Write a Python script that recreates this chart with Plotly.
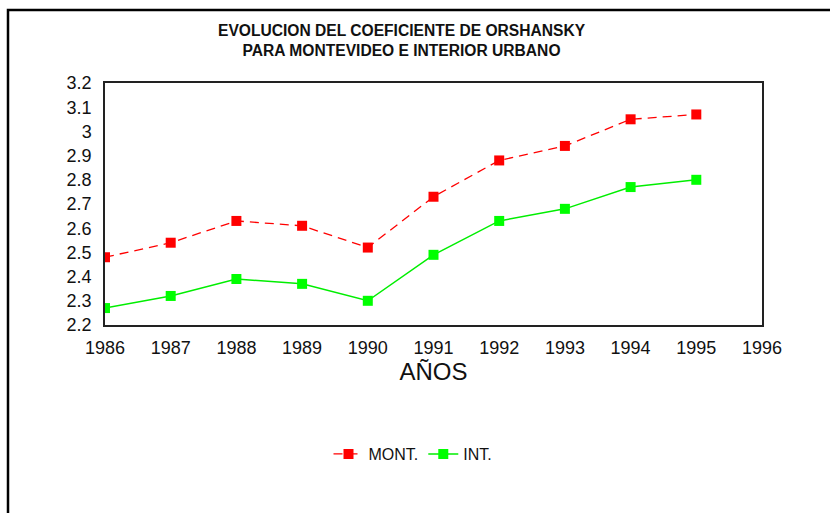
import plotly.graph_objects as go

# ---------------- data ----------------
years = [1986, 1987, 1988, 1989, 1990, 1991, 1992, 1993, 1994, 1995]
mont = [2.48, 2.54, 2.63, 2.61, 2.52, 2.73, 2.88, 2.94, 3.05, 3.07]
interior = [2.27, 2.32, 2.39, 2.37, 2.30, 2.49, 2.63, 2.68, 2.77, 2.80]

x_ticks = list(range(1986, 1997))
y_ticks = [2.2, 2.3, 2.4, 2.5, 2.6, 2.7, 2.8, 2.9, 3.0, 3.1, 3.2]
y_labels = ["2.2", "2.3", "2.4", "2.5", "2.6", "2.7", "2.8", "2.9", "3", "3.1", "3.2"]

title_lines = ["EVOLUCION DEL COEFICIENTE DE ORSHANSKY", "PARA MONTEVIDEO E INTERIOR URBANO"]

# ---------------- figure ----------------
W, H = 830, 513
ml, mr, mt, mb = 105, 68, 83, 188
pw, ph = W - ml - mr, H - mt - mb


def px2paper_x(px):
    return (px - ml) / pw


def px2paper_y(py):
    return (H - mb - py) / ph


fig = go.Figure()

fig.add_trace(
    go.Scatter(
        x=years,
        y=mont,
        name="MONT.",
        mode="lines+markers",
        line=dict(color="#ff0000", width=1.3, dash="9px,6px"),
        marker=dict(symbol="square", size=10, color="#ff0000"),
    )
)

fig.add_trace(
    go.Scatter(
        x=years,
        y=interior,
        name="INT.",
        mode="lines+markers",
        line=dict(color="#00ee00", width=1.5),
        marker=dict(symbol="square", size=10, color="#00ff00"),
    )
)

fig.update_xaxes(
    range=[1986, 1996],
    tickmode="array",
    tickvals=x_ticks,
    showgrid=False,
    zeroline=False,
    showline=True,
    linecolor="#222222",
    linewidth=1.5,
    mirror=True,
    ticks="",
    ticklabelstandoff=6,
    tickfont=dict(family="Liberation Sans, Arial", size=18, color="#111111"),
    title=dict(
        text="AÑOS",
        font=dict(family="Liberation Sans, Arial", size=24, color="#111111"),
        standoff=6,
    ),
)

fig.update_yaxes(
    range=[2.2, 3.2],
    tickmode="array",
    tickvals=y_ticks,
    ticktext=y_labels,
    showgrid=False,
    zeroline=False,
    showline=True,
    linecolor="#222222",
    linewidth=1.5,
    mirror=True,
    ticks="",
    ticklabelstandoff=8,
    tickfont=dict(family="Liberation Sans, Arial", size=18, color="#111111"),
)

fig.add_annotation(
    text="<br>".join("<b>" + s + "</b>" for s in title_lines),
    x=px2paper_x(402),
    y=px2paper_y(40),
    xref="paper",
    yref="paper",
    xanchor="center",
    yanchor="middle",
    showarrow=False,
    align="center",
    font=dict(family="Liberation Sans, Arial", size=15.6, color="#111111"),
)

# outer frame of the original picture
fig.add_shape(
    type="rect",
    xref="paper",
    yref="paper",
    x0=px2paper_x(8),
    x1=px2paper_x(845),
    y0=px2paper_y(530),
    y1=px2paper_y(10),
    line=dict(color="black", width=2.5),
    fillcolor="rgba(0,0,0,0)",
    layer="below",
)

fig.update_layout(
    width=W,
    height=H,
    margin=dict(l=ml, r=mr, t=mt, b=mb),
    paper_bgcolor="white",
    plot_bgcolor="white",
    font=dict(family="Liberation Sans, Arial", color="#111111"),
    showlegend=True,
    legend=dict(
        orientation="h",
        x=px2paper_x(413),
        y=px2paper_y(454),
        xanchor="center",
        yanchor="middle",
        font=dict(family="Liberation Sans, Arial", size=16, color="#111111"),
        bgcolor="rgba(0,0,0,0)",
        itemwidth=30,
    ),
)

# page body has a default margin; drop it so the figure sits at the window corner
fig.write_html(
    "out.html",
    config={"displayModeBar": False},
    post_script="document.body.style.margin='0';document.body.style.overflow='hidden';",
)
